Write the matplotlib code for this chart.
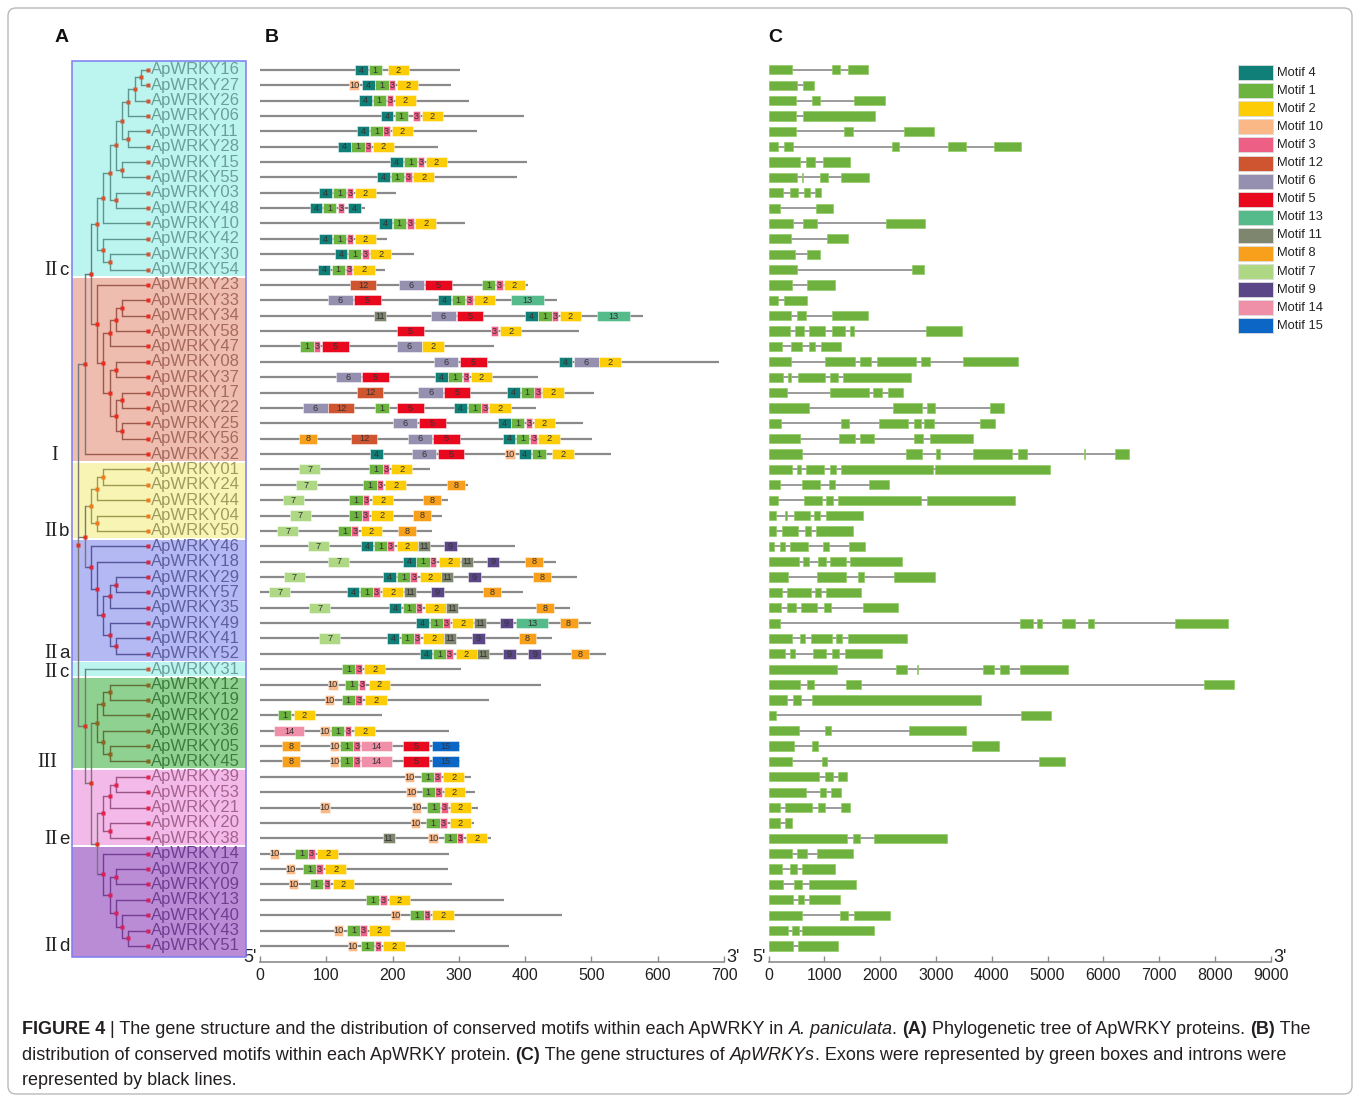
import matplotlib
matplotlib.use("Agg")
import matplotlib.pyplot as plt
from matplotlib.patches import Rectangle, FancyBboxPatch

SANS = "Liberation Sans"
SERIF = "Liberation Serif"
plt.rcParams["font.family"] = [SANS, "DejaVu Sans"]

# ---------------------------------------------------------------- data
ROW_IDS = ["16", "27", "26", "06", "11", "28", "15", "55", "03", "48", "10", "42", "30", "54",
           "23", "33", "34", "58", "47", "08", "37", "17", "22", "25", "56", "32",
           "01", "24", "44", "04", "50",
           "46", "18", "29", "57", "35", "49", "41", "52",
           "31",
           "12", "19", "02", "36", "05", "45",
           "39", "53", "21", "20", "38",
           "14", "07", "09", "13", "40", "43", "51"]

GROUP_NAMES = ["IIc", "I", "IIb", "IIa", "IIc", "III", "IIe", "IId"]
GROUP_SIZES = [14, 12, 5, 8, 1, 6, 5, 7]

# phylogeny (nested clades of ApWRKY numbers)
IIC_A = [[[[[["16", "27"], "26"], "06"], ["11", "28"]], ["15", "55"]], ["03", "48"]]
IIC = [[IIC_A, "10"], ["42", ["30", "54"]]]
GROUP_I = ["23", [[[["33", "34"], "58"], "47"], [["08", "37"], [["17", "22"], ["25", "56"]]]]]
UPPER = [[IIC, GROUP_I], "32"]
IIB = [[["01", "24"], "44"], ["04", "50"]]
IIA = ["46", ["18", [[["29", "57"], "35"], ["49", ["41", "52"]]]]]
MIDDLE = [IIB, IIA]
III = [[["12", "19"], "02"], ["36", ["05", "45"]]]
IIE = [[["39", "53"], "21"], ["20", "38"]]
IID = ["14", [["07", "09"], ["13", ["40", ["43", "51"]]]]]
LOWER = ["31", [III, [IIE, IID]]]
TREE = [UPPER, MIDDLE, LOWER]

# protein lengths (aa)
PROTEIN_LEN = [302, 288, 315, 398, 327, 268, 403, 387, 205, 159, 309, 191, 232, 189,
               405, 448, 578, 482, 353, 692, 420, 504, 417, 488, 501, 529,
               256, 314, 283, 275, 259,
               385, 447, 478, 397, 468, 500, 440, 522,
               303,
               424, 345, 184, 285, 301, 301,
               318, 324, 329, 323, 349,
               285, 283, 290, 368, 456, 294, 375]

# conserved motifs: motif number and start position (aa)
MOTIF_IDS = [
    [4, 1, 2], [10, 4, 1, 3, 2], [4, 1, 3, 2], [4, 1, 3, 2], [4, 1, 3, 2], [4, 1, 3, 2],
    [4, 1, 3, 2], [4, 1, 3, 2], [4, 1, 3, 2], [4, 1, 3, 4], [4, 1, 3, 2], [4, 1, 3, 2],
    [4, 1, 3, 2], [4, 1, 3, 2],
    [12, 6, 5, 1, 3, 2], [6, 5, 4, 1, 3, 2, 13], [11, 6, 5, 4, 1, 3, 2, 13], [5, 3, 2],
    [1, 3, 5, 6, 2], [6, 5, 4, 6, 2], [6, 5, 4, 1, 3, 2], [12, 6, 5, 4, 1, 3, 2],
    [6, 12, 1, 5, 4, 1, 3, 2], [6, 5, 4, 1, 3, 2], [8, 12, 6, 5, 4, 1, 3, 2],
    [4, 6, 5, 10, 4, 1, 2],
    [7, 1, 3, 2], [7, 1, 3, 2, 8], [7, 1, 3, 2, 8], [7, 1, 3, 2, 8], [7, 1, 3, 2, 8],
    [7, 4, 1, 3, 2, 11, 9], [7, 4, 1, 3, 2, 11, 9, 8], [7, 4, 1, 3, 2, 11, 9, 8],
    [7, 4, 1, 3, 2, 11, 9, 8], [7, 4, 1, 3, 2, 11, 8], [4, 1, 3, 2, 11, 9, 13, 8],
    [7, 4, 1, 3, 2, 11, 9, 8], [4, 1, 3, 2, 11, 9, 9, 8],
    [1, 3, 2],
    [10, 1, 3, 2], [10, 1, 3, 2], [1, 2], [14, 10, 1, 3, 2], [8, 10, 1, 3, 14, 5, 15],
    [8, 10, 1, 3, 14, 5, 15],
    [10, 1, 3, 2], [10, 1, 3, 2], [10, 10, 1, 3, 2], [10, 1, 3, 2], [11, 10, 1, 3, 2],
    [10, 1, 3, 2], [10, 1, 3, 2], [10, 1, 3, 2], [1, 3, 2], [10, 1, 3, 2], [10, 1, 3, 2],
    [10, 1, 3, 2],
]
MOTIF_STARTS = [
    [144, 164, 193], [135, 154, 174, 194, 207], [150, 170, 191, 203], [182, 203, 231, 244],
    [146, 166, 186, 199], [118, 138, 158, 170], [196, 217, 238, 250], [177, 197, 219, 231],
    [89, 110, 131, 143], [75, 95, 117, 133], [180, 200, 222, 234], [89, 110, 131, 143],
    [113, 133, 154, 166], [87, 108, 129, 141],
    [136, 210, 249, 335, 356, 368], [103, 142, 269, 289, 311, 323, 379],
    [172, 258, 297, 400, 420, 440, 452, 509], [207, 349, 362],
    [61, 81, 94, 207, 245], [262, 302, 451, 474, 512], [115, 154, 264, 284, 306, 318],
    [147, 239, 277, 373, 393, 414, 426],
    [65, 103, 174, 207, 293, 314, 334, 346], [200, 240, 359, 379, 401, 413],
    [59, 138, 223, 261, 366, 386, 408, 420],
    [166, 229, 268, 370, 390, 411, 441],
    [59, 165, 185, 198], [54, 156, 176, 189, 282], [34, 135, 155, 169, 246],
    [45, 134, 154, 168, 231], [26, 118, 138, 152, 208],
    [72, 152, 172, 192, 206, 239, 278], [103, 216, 236, 256, 270, 303, 342, 400],
    [36, 186, 207, 227, 241, 273, 314, 412], [14, 131, 151, 171, 184, 217, 258, 336],
    [74, 194, 215, 235, 249, 281, 416], [236, 256, 276, 290, 323, 362, 386, 452],
    [89, 191, 212, 232, 246, 278, 320, 390], [241, 261, 281, 295, 328, 367, 405, 469],
    [124, 144, 157],
    [103, 128, 149, 164], [98, 123, 144, 159], [27, 51], [21, 91, 107, 128, 142],
    [33, 105, 121, 141, 153, 215, 260], [33, 105, 121, 141, 153, 215, 260],
    [219, 243, 263, 276], [221, 244, 264, 277], [91, 229, 252, 273, 286],
    [228, 251, 272, 286], [185, 254, 277, 297, 311],
    [15, 53, 73, 86], [39, 65, 85, 98], [44, 75, 96, 110], [160, 181, 194],
    [197, 227, 247, 260], [111, 131, 151, 164], [133, 152, 173, 186],
]
MOTIF_WIDTH = {1: 20, 2: 32, 3: 10, 4: 19, 5: 40, 6: 37, 7: 32, 8: 27, 9: 19,
               10: 14, 11: 18, 12: 39, 13: 49, 14: 46, 15: 40}
MOTIF_COLOR = {4: "#0f7f78", 1: "#6db33f", 2: "#fccc06", 10: "#fbb887", 3: "#ee5f86",
               12: "#cf5430", 6: "#958fb0", 5: "#e8091f", 13: "#55bb8a", 11: "#7f8670",
               8: "#f8a01c", 7: "#afd884", 9: "#5b4788", 14: "#ef8fa8", 15: "#0b66c6"}
LEGEND_ORDER = [4, 1, 2, 10, 3, 12, 6, 5, 13, 11, 8, 7, 9, 14, 15]

# exon coordinates (bp) of each gene
EXONS = [
    [(0, 420), (1142, 1284), (1426, 1772)],
    [(0, 500), (623, 815)],
    [(0, 481), (772, 920), (1525, 2093)],
    [(0, 494), (623, 1901)],
    [(0, 494), (1358, 1506), (2426, 2969)],
    [(0, 173), (272, 438), (2204, 2340), (3216, 3543), (4037, 4531)],
    [(0, 568), (673, 827), (969, 1463)],
    [(0, 506), (599, 611), (920, 1062), (1296, 1796)],
    [(0, 259), (383, 525), (636, 747), (827, 944)],
    [(0, 210), (846, 1160)],
    [(0, 438), (623, 858), (2105, 2802)],
    [(0, 401), (1049, 1426)],
    [(0, 469), (679, 914)],
    [(0, 500), (2574, 2790)],
    [(0, 420), (691, 1191)],
    [(0, 173), (278, 691)],
    [(0, 401), (500, 667), (1136, 1772)],
    [(0, 377), (475, 630), (728, 1012), (1142, 1370), (1457, 1531), (2827, 3469)],
    [(0, 241), (401, 599), (722, 833), (938, 1302)],
    [(0, 407), (1006, 1549), (1636, 1827), (1938, 2636), (2722, 2883), (3488, 4469)],
    [(0, 259), (346, 401), (525, 1006), (1099, 1247), (1340, 2556)],
    [(0, 333), (1105, 1790), (1877, 2031), (2130, 2401)],
    [(0, 716), (2228, 2753), (2840, 2988), (3969, 4216)],
    [(0, 222), (1302, 1438), (1969, 2506), (2605, 2728), (2790, 2969), (3796, 4062)],
    [(0, 568), (1253, 1549), (1636, 1889), (2605, 2759), (2883, 3660)],
    [(0, 593), (2457, 2747), (2994, 3074), (3654, 4364), (4475, 4623), (5660, 5672), (6204, 6451)],
    [(0, 420), (500, 574), (667, 994), (1093, 1210), (1302, 2938), (2988, 5037)],
    [(0, 210), (599, 914), (1080, 1191), (1796, 2154)],
    [(0, 173), (636, 951), (1025, 1148), (1241, 2728), (2833, 4420)],
    [(0, 136), (290, 327), (457, 747), (815, 926), (1019, 1691)],
    [(0, 123), (235, 531), (642, 759), (852, 1506)],
    [(0, 99), (210, 296), (383, 698), (969, 1080), (1432, 1722)],
    [(0, 549), (623, 728), (883, 1019), (1105, 1377), (1463, 2389)],
    [(0, 340), (858, 1389), (1593, 1704), (2253, 2975)],
    [(0, 235), (327, 759), (827, 944), (1025, 1648)],
    [(0, 222), (327, 481), (586, 864), (1000, 1123), (1685, 2327)],
    [(0, 210), (4506, 4735), (4815, 4901), (5253, 5494), (5728, 5840), (7284, 8235)],
    [(0, 420), (562, 654), (759, 1136), (1204, 1321), (1414, 2488)],
    [(0, 296), (389, 475), (796, 1031), (1142, 1259), (1370, 2037)],
    [(0, 1222), (2284, 2481), (2660, 2685), (3846, 4043), (4154, 4315), (4506, 5370)],
    [(0, 562), (691, 809), (1383, 1654), (7802, 8340)],
    [(0, 333), (444, 574), (778, 3815)],
    [(0, 136), (4525, 5056)],
    [(0, 543), (1012, 1117), (2519, 3531)],
    [(0, 451), (784, 889), (3642, 4123)],
    [(0, 414), (957, 1049), (4840, 5315)],
    [(0, 901), (1012, 1154), (1247, 1401)],
    [(0, 673), (914, 1031), (1123, 1296)],
    [(0, 204), (290, 784), (889, 1006), (1296, 1457)],
    [(0, 210), (296, 426)],
    [(0, 1401), (1512, 1630), (1889, 3204)],
    [(0, 414), (512, 679), (870, 1506)],
    [(0, 235), (389, 506), (599, 1191)],
    [(0, 259), (451, 599), (728, 1574)],
    [(0, 438), (525, 636), (728, 1284)],
    [(0, 605), (1284, 1420), (1537, 2167)],
    [(0, 352), (426, 549), (605, 1889)],
    [(0, 438), (519, 1235)],
]

AA_TICKS = [0, 100, 200, 300, 400, 500, 600, 700]
BP_TICKS = [0, 1000, 2000, 3000, 4000, 5000, 6000, 7000, 8000, 9000]

# ---------------------------------------------------------------- styles
BAND_COLOR = {"IIc": "#bcf5f0", "I": "#efbdaf", "IIb": "#f8f5b4", "IIa": "#b4b8f3",
              "III": "#8fd190", "IIe": "#f3b9e8", "IId": "#ba8cd5"}
LABEL_COLOR = {"IIc": "#6c9e9a", "I": "#a5695e", "IIb": "#9f9b5e", "IIa": "#5e5f9f",
               "III": "#3f7b3d", "IIe": "#a6628f", "IId": "#703e91"}
LINE_COLOR = {"IIc": "#5f958f", "I": "#9a5a4e", "IIb": "#a09850", "IIa": "#55569a",
              "III": "#5f6f35", "IIe": "#9c5586", "IId": "#743c93"}
NODE_COLOR = {"IIc": "#d6542e", "I": "#ee2a1e", "IIb": "#f07a1e", "IIa": "#d8263c",
              "III": "#8c6520", "IIe": "#e8204e", "IId": "#dc1e5a"}
GREY_LINE = "#8a8a8a"
ROMAN = {"IIc": ("II", "c"), "I": ("I", ""), "IIb": ("II", "b"), "IIa": ("II", "a"),
         "III": ("III", ""), "IIe": ("II", "e"), "IId": ("II", "d")}

# ---------------------------------------------------------------- figure
W, H = 1360, 1097
fig = plt.figure(figsize=(W / 100, H / 100), dpi=100)

base = fig.add_axes([0, 0, 1, 1], zorder=0)
base.set_xlim(0, W)
base.set_ylim(H, 0)
base.axis("off")


def px_axes(x0, y0, x1, y1, z=2):
    ax = fig.add_axes([x0 / W, 1 - y1 / H, (x1 - x0) / W, (y1 - y0) / H], zorder=z)
    ax.patch.set_alpha(0)
    return ax


ROW_TOP, ROW_STEP = 69.8, 15.37
AX_TOP, AX_BOT = 55.0, 962.3
Y_LIM = ((AX_BOT - ROW_TOP) / ROW_STEP, (AX_TOP - ROW_TOP) / ROW_STEP)
N = len(ROW_IDS)

row_group = []
for g, n in zip(GROUP_NAMES, GROUP_SIZES):
    row_group += [g] * n
row_of = {gid: i for i, gid in enumerate(ROW_IDS)}

# ---------------------------------------------------------------- panel A
tr = px_axes(40, AX_TOP, 255, AX_BOT)
tr.set_xlim(40, 255)
tr.set_ylim(*Y_LIM)
tr.axis("off")

BOX_L, BOX_R = 72, 246
box_top, box_bot = -0.57, N - 1 + 0.72
start = 0
for k, (g, n) in enumerate(zip(GROUP_NAMES, GROUP_SIZES)):
    top = start - 0.5 + (0.06 if k > 0 else 0)
    bot = start + n - 0.5 - (0.06 if k < len(GROUP_NAMES) - 1 else 0)
    if k == 0:
        top = box_top
    if k == len(GROUP_NAMES) - 1:
        bot = box_bot
    tr.add_patch(Rectangle((BOX_L, top), BOX_R - BOX_L, bot - top,
                           facecolor=BAND_COLOR[g], edgecolor="none", zorder=0))
    start += n
tr.add_patch(Rectangle((BOX_L, box_top), BOX_R - BOX_L, box_bot - box_top, fill=False,
                       edgecolor="#7c7cf2", lw=1.1, zorder=1))

LEAF_X = 148.3


def node_x(depth):
    return 78.3 + 6.27 * depth


def leaf_list(node):
    if isinstance(node, str):
        return [node]
    out = []
    for c in node:
        out += leaf_list(c)
    return out


def clade_group(node):
    gs = {row_group[row_of[l]] for l in leaf_list(node)}
    return gs.pop() if len(gs) == 1 else None


def draw_clade(node, depth):
    if isinstance(node, str):
        return row_of[node], LEAF_X
    x = node_x(depth)
    ys = []
    for c in node:
        cy, cx = draw_clade(c, depth + 1)
        cg = clade_group(c)
        tr.plot([x, cx], [cy, cy], color=LINE_COLOR.get(cg, "#777777"), lw=1.0,
                solid_capstyle="butt", zorder=2)
        ys.append(cy)
    g = clade_group(node)
    tr.plot([x, x], [min(ys), max(ys)], color=LINE_COLOR.get(g, "#777777"), lw=1.0,
            zorder=2)
    y = (min(ys) + max(ys)) / 2
    tr.plot(x, y, "s", ms=2.6, color=NODE_COLOR.get(g, "#dd3322"), mec="none", zorder=3)
    return y, x


draw_clade(TREE, 0)

for i, gid in enumerate(ROW_IDS):
    g = row_group[i]
    tr.plot(LEAF_X, i, "s", ms=2.6, color=NODE_COLOR[g], mec="none", zorder=3)
    tr.text(151, i, "ApWRKY" + gid, fontsize=12, color=LABEL_COLOR[g],
            va="center", ha="left", zorder=4)

# clade labels beside the bottom row of each group, kept apart when crowded
label_y = []
start = 0
for g, n in zip(GROUP_NAMES, GROUP_SIZES):
    label_y.append(ROW_TOP + (start + n - 1) * ROW_STEP + 1)
    start += n
MIN_GAP = 19
for k in range(1, len(label_y)):
    gap = label_y[k] - label_y[k - 1]
    if gap < MIN_GAP:
        shift = (MIN_GAP - gap) / 2
        label_y[k - 1] -= shift
        label_y[k] += shift
for g, ypx in zip(GROUP_NAMES, label_y):
    num, letter = ROMAN[g]
    base.text(57.5, ypx, num, family=SERIF, fontsize=14.5, ha="right", va="center",
              color="#222222")
    if letter:
        base.text(59, ypx, letter, fontsize=13.5, ha="left", va="center", color="#222222")

# ---------------------------------------------------------------- panel B
axb = px_axes(260, AX_TOP, 724, AX_BOT)
axb.set_xlim(0, 700)
axb.set_ylim(*Y_LIM)
MH = 0.66
for i in range(N):
    axb.plot([0, PROTEIN_LEN[i]], [i, i], color=GREY_LINE, lw=1.6,
             solid_capstyle="butt", zorder=1)
    for m, s in zip(MOTIF_IDS[i], MOTIF_STARTS[i]):
        w = MOTIF_WIDTH[m]
        axb.add_patch(Rectangle((s, i - MH / 2), w, MH, facecolor=MOTIF_COLOR[m],
                                edgecolor=(1, 1, 1, 0.55), lw=0.6, zorder=2))
        axb.text(s + w / 2, i + 0.02, str(m), fontsize=6.6, color="#333333",
                 ha="center", va="center", zorder=3)

# ---------------------------------------------------------------- panel C
axc = px_axes(768.7, AX_TOP, 1270.7, AX_BOT)
axc.set_xlim(0, 9000)
axc.set_ylim(*Y_LIM)
EH = 0.6
for i in range(N):
    ex = EXONS[i]
    axc.plot([ex[0][0], ex[-1][1]], [i, i], color=GREY_LINE, lw=1.2,
             solid_capstyle="butt", zorder=1)
    for a, b in ex:
        axc.add_patch(Rectangle((a, i - EH / 2), b - a, EH, facecolor="#6eb13e",
                                edgecolor="#8fcc63", lw=0.5, zorder=2))

for ax, ticks in ((axb, AA_TICKS), (axc, BP_TICKS)):
    for side in ("top", "left", "right"):
        ax.spines[side].set_visible(False)
    ax.spines["bottom"].set_color("#8c8c8c")
    ax.spines["bottom"].set_linewidth(1.2)
    ax.set_yticks([])
    ax.set_xticks(ticks)
    ax.set_xticklabels([str(t) for t in ticks])
    ax.tick_params(axis="x", direction="in", length=4, width=1.0, color="#8c8c8c",
                   labelsize=11.5, labelcolor="#222222", pad=4)

# strand ends
for x, s, ha in ((257, "5'", "right"), (726, "3'", "left"),
                 (766, "5'", "right"), (1273, "3'", "left")):
    base.text(x, 958, s, fontsize=13, ha=ha, va="center", color="#222222")

# panel letters
for x, s in ((62, "A"), (272, "B"), (775, "C")):
    base.text(x, 38, s, fontsize=14, fontweight="bold", ha="center", va="center",
              color="#111111")

# ---------------------------------------------------------------- legend
for k, m in enumerate(LEGEND_ORDER):
    y0 = 65 + k * 18.1
    base.add_patch(Rectangle((1238, y0), 35, 15, facecolor=MOTIF_COLOR[m],
                             edgecolor="#dddddd", lw=0.6))
    base.text(1277, y0 + 7.5, f"Motif {m}", fontsize=9.3, ha="left", va="center",
              color="#222222")

# ---------------------------------------------------------------- caption
CAPTION = [
    [("FIGURE 4", "bold", "normal"), (" | The gene structure and the distribution of "
     "conserved motifs within each ApWRKY in ", "normal", "normal"),
     ("A. paniculata", "normal", "italic"), (". ", "normal", "normal"),
     ("(A)", "bold", "normal"), (" Phylogenetic tree of ApWRKY proteins. ", "normal", "normal"),
     ("(B)", "bold", "normal"), (" The", "normal", "normal")],
    [("distribution of conserved motifs within each ApWRKY protein. ", "normal", "normal"),
     ("(C)", "bold", "normal"), (" The gene structures of ", "normal", "normal"),
     ("ApWRKYs", "normal", "italic"),
     (". Exons were represented by green boxes and introns were", "normal", "normal")],
    [("represented by black lines.", "normal", "normal")],
]
renderer = fig.canvas.get_renderer()
for li, runs in enumerate(CAPTION):
    x = 22
    y = 1030 + li * 25.3
    for txt, weight, style in runs:
        t = base.text(x, y, txt, fontsize=13.0, fontweight=weight, fontstyle=style,
                      ha="left", va="center", color="#231f20")
        x += t.get_window_extent(renderer).width

# outer frame
base.add_patch(FancyBboxPatch((8, 8), 1344, 1086, boxstyle="round,pad=0,rounding_size=8",
                              fill=False, edgecolor="#b9b9b9", lw=1.0))

fig.savefig("out.png", dpi=100)
